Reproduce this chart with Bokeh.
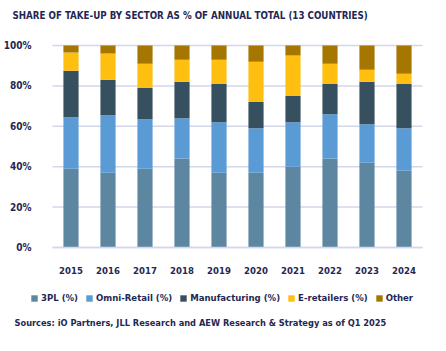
from bokeh.plotting import figure
from bokeh.models import (ColumnDataSource, Legend, LegendItem, Label, LinearAxis,
                          NumeralTickFormatter, FixedTicker, Range1d)
from bokeh.embed import file_html
from bokeh.resources import INLINE

years = ["2015", "2016", "2017", "2018", "2019", "2020", "2021", "2022", "2023", "2024"]
tpl = [39, 37, 39, 44, 37, 37, 40, 44, 42, 38]
omni = [25.5, 28.5, 24.5, 20, 25, 22, 22, 22, 19, 21]
manuf = [23, 17.5, 15.5, 18, 19, 13, 13, 15, 21, 22]
eret = [9, 13, 12, 11, 12, 20, 20, 10, 6, 5]
other = [3.5, 4, 9, 7, 7, 8, 5, 9, 12, 14]
y_ticks = [0, 0.2, 0.4, 0.6, 0.8, 1.0]

series = ["3PL (%)", "Omni-Retail (%)", "Manufacturing (%)", "E-retailers (%)", "Other"]
keys = ["tpl", "omni", "manuf", "eret", "other"]
colors = ["#5d87a1", "#5b9bd5", "#37505f", "#ffbf10", "#a67700"]

TITLE = "SHARE OF TAKE-UP BY SECTOR AS % OF ANNUAL TOTAL  (13 COUNTRIES)"
SOURCE = "Sources: iO Partners, JLL Research and AEW Research & Strategy as of Q1 2025"

FONT = "DejaVu Sans Condensed"
NAVY = "#1f2853"
GRID = "#d2d7ea"

W, H = 446, 351
# plot-area layout (pixels): left 52, right 24, top 45, bottom 104
LEFT, RIGHT, TOP, BOTTOM = 52, 24, 45, 104
n = len(years)
xs = list(range(n))
step = (W - LEFT - RIGHT) / n
ppu = H - TOP - BOTTOM  # pixels per unit (100%)

x_start = -0.5 - LEFT / step
x_end = x_start + W / step
y_start = -BOTTOM / ppu
y_end = 1 + TOP / ppu

src = ColumnDataSource(dict(x=xs, tpl=[v / 100 for v in tpl], omni=[v / 100 for v in omni],
                            manuf=[v / 100 for v in manuf], eret=[v / 100 for v in eret],
                            other=[v / 100 for v in other]))

p = figure(width=W, height=H, x_range=Range1d(x_start, x_end), y_range=Range1d(y_start, y_end),
           x_axis_type=None, y_axis_type=None, output_backend="svg",
           toolbar_location=None, min_border=0)
p.outline_line_color = None
p.xgrid.visible = False
p.ygrid.visible = False

# gridlines across the plot area
grid_src = ColumnDataSource(dict(x0=[-0.5] * len(y_ticks), x1=[n - 0.5] * len(y_ticks), y=y_ticks))
p.segment(x0="x0", x1="x1", y0="y", y1="y", source=grid_src, line_color=GRID, line_width=1.5)

rs = p.vbar_stack(keys, x="x", width=0.41, color=colors, source=src, line_width=0)

yaxis = LinearAxis(fixed_location=-0.5, ticker=FixedTicker(ticks=y_ticks),
                   formatter=NumeralTickFormatter(format="0%"), bounds=(0, 1))
yaxis.axis_line_color = None
yaxis.major_tick_line_color = None
yaxis.minor_tick_line_color = None
yaxis.major_label_text_font = FONT
yaxis.major_label_text_font_size = "10px"
yaxis.major_label_text_font_style = "bold"
yaxis.major_label_text_color = NAVY
yaxis.major_label_standoff = 15
p.add_layout(yaxis, "left")

xaxis = LinearAxis(fixed_location=0, ticker=FixedTicker(ticks=xs),
                   major_label_overrides={i: y for i, y in zip(xs, years)}, bounds=(-0.5, n - 0.5))
xaxis.axis_line_color = GRID
xaxis.axis_line_width = 1.5
xaxis.major_tick_line_color = None
xaxis.minor_tick_line_color = None
xaxis.major_label_text_font = FONT
xaxis.major_label_text_font_size = "9.5px"
xaxis.major_label_text_font_style = "bold"
xaxis.major_label_text_color = NAVY
xaxis.major_label_standoff = 13
p.add_layout(xaxis, "below")

legend = Legend(items=[LegendItem(label=s, renderers=[r]) for s, r in zip(series, rs)],
                orientation="horizontal", location=(30, 48),
                glyph_width=8, glyph_height=8, label_text_font=FONT,
                label_text_font_size="9.5px", label_text_font_style="bold",
                label_text_color=NAVY, label_standoff=3, spacing=7, padding=0, margin=0,
                border_line_color=None, background_fill_alpha=0)
p.add_layout(legend, "center")

p.add_layout(Label(x=12, y=H - 15, x_units="screen", y_units="screen", text=TITLE,
                   text_font=FONT, text_font_size="9.7px", text_font_style="bold",
                   text_color=NAVY, text_baseline="middle"))
p.add_layout(Label(x=14, y=H - 322, x_units="screen", y_units="screen", text=SOURCE,
                   text_font=FONT, text_font_size="9.2px", text_font_style="bold",
                   text_color=NAVY, text_baseline="middle"))

open("out.html", "w").write(file_html(p, INLINE))
